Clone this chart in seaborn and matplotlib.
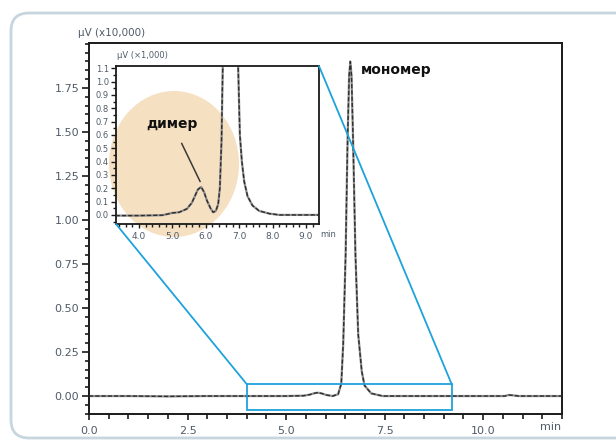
import matplotlib
matplotlib.use("Agg")
import matplotlib.pyplot as plt
import seaborn as sns
import pandas as pd
from matplotlib.patches import Rectangle, Ellipse, FancyBboxPatch, ConnectionPatch
from matplotlib.transforms import IdentityTransform
from matplotlib.ticker import MultipleLocator, FixedLocator

# Full chromatogram: retention time (min) and detector signal (µV x10,000)
main_time = [0.0, 1.0, 2.0, 3.0, 4.0, 5.0, 5.45, 5.6, 5.72, 5.8, 5.9, 6.02,
             6.18, 6.32, 6.40, 6.45, 6.51, 6.56, 6.60, 6.63, 6.66, 6.70,
             6.76, 6.83, 6.92, 6.99, 7.16, 7.45, 8.0, 9.0, 10.0, 10.55,
             10.65, 10.75, 10.9, 12.0]
main_signal = [0.0, 0.0, -0.002, 0.0, 0.0, 0.0, 0.002, 0.008, 0.016, 0.019,
               0.015, 0.006, 0.0, 0.01, 0.07, 0.3, 0.8, 1.45, 1.82, 1.90,
               1.82, 1.45, 0.8, 0.35, 0.14, 0.06, 0.015, 0.0, 0.0, 0.0, 0.0,
               0.0, 0.006, 0.004, 0.0, 0.0]

# Expanded view of the early region: signal in µV x1,000
zoom_time = [3.3, 4.0, 4.7, 5.0, 5.2, 5.43, 5.58, 5.67, 5.76, 5.86, 5.95,
             6.03, 6.14, 6.22, 6.30, 6.37, 6.42, 6.47, 6.51, 6.62, 6.73,
             6.85, 6.97, 7.02, 7.08, 7.15, 7.25, 7.4, 7.6, 7.9, 8.2, 9.4]
zoom_signal = [-0.005, -0.005, -0.002, 0.015, 0.02, 0.045, 0.09, 0.14, 0.19,
               0.21, 0.17, 0.11, 0.05, 0.02, 0.03, 0.08, 0.2, 0.55, 1.15, 8.0,
               19.0, 8.0, 1.1, 0.6, 0.4, 0.25, 0.14, 0.07, 0.03, 0.01, 0.0, 0.0]

main_xticks = [0.0, 2.5, 5.0, 7.5, 10.0]
main_xticklabels = ["0.0", "2.5", "5.0", "7.5", "10.0"]
main_yticks = [0.00, 0.25, 0.50, 0.75, 1.00, 1.25, 1.50, 1.75]
main_yticklabels = ["0.00", "0.25", "0.50", "0.75", "1.00", "1.25", "1.50", "1.75"]
zoom_xticks = [4.0, 5.0, 6.0, 7.0, 8.0, 9.0]
zoom_xticklabels = ["4.0", "5.0", "6.0", "7.0", "8.0", "9.0"]
zoom_yticks = [0.0, 0.1, 0.2, 0.3, 0.4, 0.5, 0.6, 0.7, 0.8, 0.9, 1.0, 1.1]
zoom_yticklabels = ["0.0", "0.1", "0.2", "0.3", "0.4", "0.5", "0.6", "0.7",
                    "0.8", "0.9", "1.0", "1.1"]

# expanded window on the full trace (min, signal)
window_time = (4.0, 9.2)
window_signal = (-0.08, 0.068)

monomer_label = "мономер"
dimer_label = "димер"

sns.set_theme(style="ticks")
plt.rcParams["font.family"] = ["DejaVu Sans"]

label_color = "#4f5b68"
blue = "#1ea2dc"
trace_light = "#8f8f8f"
trace_dark = "#2e2e2e"

fig = plt.figure(figsize=(6.16, 4.41), dpi=100)
fig.patch.set_facecolor("white")

# rounded panel frame
frame = FancyBboxPatch((11, 3), 640, 425, boxstyle="round,pad=0,rounding_size=18",
                       transform=IdentityTransform(), facecolor="none",
                       edgecolor="#c7d5de", linewidth=2.0, zorder=0)
fig.patches.append(frame)

# ---- full chromatogram ----
ax = fig.add_axes([89 / 616, 1 - 414 / 441, 473 / 616, 371 / 441])
main_df = pd.DataFrame({"time": main_time, "signal": main_signal})
sns.lineplot(data=main_df, x="time", y="signal", ax=ax, color=trace_light,
             linewidth=1.6, sort=False, zorder=2)
sns.lineplot(data=main_df, x="time", y="signal", ax=ax, color=trace_dark,
             linewidth=1.0, sort=False, zorder=3, linestyle=(0, (3.0, 1.5)))
ax.set_xlim(0, 12.0)
ax.set_ylim(-0.102, 2.005)
ax.set_xlabel("")
ax.set_ylabel("")
ax.xaxis.set_major_locator(FixedLocator(main_xticks))
ax.set_xticklabels(main_xticklabels)
ax.xaxis.set_minor_locator(MultipleLocator(0.5))
ax.yaxis.set_major_locator(FixedLocator(main_yticks))
ax.set_yticklabels(main_yticklabels)
ax.yaxis.set_minor_locator(MultipleLocator(0.05))
for s in ax.spines.values():
    s.set_linewidth(1.4)
    s.set_color("#1a1a1a")
ax.tick_params(axis="both", which="both", direction="out", color="#1a1a1a",
               labelcolor=label_color, labelsize=8, width=1.2)
ax.tick_params(axis="y", which="major", length=5, pad=2)
ax.tick_params(axis="y", which="minor", length=3)
ax.tick_params(axis="x", which="major", length=4, pad=5)
ax.tick_params(axis="x", which="minor", length=3.5)
ax.text(11.99, -0.15, "min", ha="right", va="top", fontsize=8,
        color=label_color, clip_on=False)

ax.add_patch(Rectangle((window_time[0], window_signal[0]),
                       window_time[1] - window_time[0],
                       window_signal[1] - window_signal[0],
                       facecolor="none", edgecolor=blue, linewidth=1.3, zorder=4))
ax.text(6.91, 1.85, monomer_label, ha="left", va="center", fontsize=10,
        fontweight="bold", color="#111111")

fig.text(78 / 616, 1 - 33.5 / 441, "µV (x10,000)", ha="left", va="center",
         fontsize=7.5, color=label_color)

# ---- expanded view ----
axi = fig.add_axes([116 / 616, 1 - 224 / 441, 203 / 616, 158 / 441])
axi.set_facecolor("white")
zoom_df = pd.DataFrame({"time": zoom_time, "signal": zoom_signal})
axi.add_patch(Ellipse((174, 441 - 164), 130, 146, transform=IdentityTransform(),
                      facecolor="#f6e0c2", edgecolor="none", clip_on=False,
                      zorder=0.5))
sns.lineplot(data=zoom_df, x="time", y="signal", ax=axi, color=trace_light,
             linewidth=1.6, sort=False, zorder=2)
sns.lineplot(data=zoom_df, x="time", y="signal", ax=axi, color=trace_dark,
             linewidth=1.0, sort=False, zorder=3, linestyle=(0, (3.0, 1.5)))
axi.set_xlim(3.31, 9.39)
axi.set_ylim(-0.068, 1.117)
axi.set_xlabel("")
axi.set_ylabel("")
axi.xaxis.set_major_locator(FixedLocator(zoom_xticks))
axi.set_xticklabels(zoom_xticklabels)
axi.xaxis.set_minor_locator(MultipleLocator(0.2))
axi.yaxis.set_major_locator(FixedLocator(zoom_yticks))
axi.set_yticklabels(zoom_yticklabels)
axi.yaxis.set_minor_locator(MultipleLocator(0.05))
for s in axi.spines.values():
    s.set_linewidth(1.3)
    s.set_color("#1a1a1a")
axi.tick_params(axis="both", which="both", direction="out", color="#1a1a1a",
                labelcolor=label_color, width=1.0)
axi.tick_params(axis="y", which="major", length=3.5, pad=1.5, labelsize=6)
axi.tick_params(axis="y", which="minor", length=2)
axi.tick_params(axis="x", which="major", length=3, pad=3, labelsize=6.5)
axi.tick_params(axis="x", which="minor", length=2)
fig.text(328 / 616, 1 - 234 / 441, "min", ha="center", va="center",
         fontsize=6, color=label_color)
fig.text(117 / 616, 1 - 55 / 441, "µV (×1,000)", ha="left", va="center",
         fontsize=6, color=label_color)

axi.annotate(dimer_label, xy=(5.83, 0.25), xytext=(5.0, 0.68),
             ha="center", va="center", fontsize=10, fontweight="bold",
             color="#111111",
             arrowprops=dict(arrowstyle="-", color="#3a3a3a", lw=1.1,
                             shrinkA=7, shrinkB=0))

# connector lines between the window and the expanded view
for xy_main, xy_inset in [((window_time[0], window_signal[1]), (0, 0)),
                          ((window_time[1], window_signal[1]), (1, 1))]:
    con = ConnectionPatch(xyA=xy_main, coordsA=ax.transData,
                          xyB=xy_inset, coordsB=axi.transAxes,
                          color=blue, linewidth=1.3, zorder=5)
    fig.add_artist(con)

fig.savefig("out.png", dpi=100, facecolor="white")
